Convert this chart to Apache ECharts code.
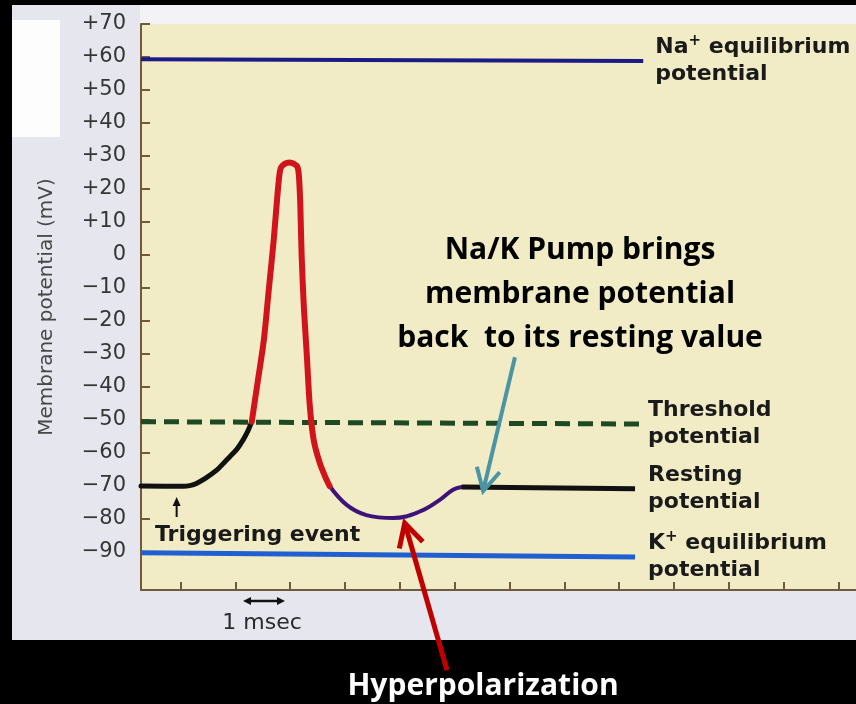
<!DOCTYPE html>
<html>
<head>
<meta charset="utf-8">
<script src="https://cdn.jsdelivr.net/npm/echarts@6.0.0/dist/echarts.min.js"></script>
<style>
    html, body { margin: 0; padding: 0; background: #000; }
    #chart { width: 856px; height: 704px; }
</style>
</head>
<body>
<div id="chart"></div>
<script>
// time in msec (one tick = 1 msec), potential in mV
const xTicks = [0, 1, 2, 3, 4, 5, 6, 7, 8, 9, 10, 11, 12];
const yTicks = [70, 60, 50, 40, 30, 20, 10, 0, -10, -20, -30, -40, -50, -60, -70, -80, -90];
const xMin = -0.72, xMax = 12.32;
const yMin = -101.5, yMax = 70;

// resting -> threshold
const tRise = [-0.72, 0.05, 0.19, 0.29, 0.46, 0.66, 0.79, 0.90, 1.03, 1.14, 1.23, 1.30];
const vRise = [-70, -70.1, -69.8, -69.2, -67.6, -65.2, -63, -61.1, -58.8, -56.1, -53.3, -50.5];
// spike
const tSpike = [1.30, 1.41, 1.52, 1.61, 1.70, 1.776, 1.812, 1.836, 1.899, 1.985, 2.072, 2.135, 2.162, 2.186, 2.21, 2.25, 2.305, 2.36, 2.43, 2.54, 2.65, 2.72];
const vSpike = [-50.5, -38.2, -25.8, -10.6, 4.5, 19.7, 25.2, 26.6, 27.6, 28.0, 27.6, 26.6, 23.5, 14.8, -0.3, -15.7, -30.6, -46, -56.1, -63, -67.6, -70];
// hyperpolarization
const tDip = [2.72, 3.03, 3.39, 3.88, 4.37, 4.73, 4.97, 5.13];
const vDip = [-70, -75.7, -78.8, -79.7, -77.7, -74.2, -71.1, -70.3];
// back to rest
const tRest = [5.13, 8.29];
const vRest = [-70.3, -70.8];

// reference potentials
const tNa = [-0.72, 8.44];
const vNa = [59.3, 58.8];
const tThr = [-0.72, 8.38];
const vThr = [-50.5, -51.2];
const tK = [-0.72, 8.29];
const vK = [-90.2, -91.5];

const font = 'DejaVu Sans';
const axisColor = '#6e5a3c';

function zip(t, v) {
    return t.map((x, i) => [x, v[i]]);
}

function fmtY(v) {
    if (v > 0) return '+' + v;
    if (v < 0) return '\u2212' + (-v);
    return '0';
}

const labelBase = {
    show: true,
    fontFamily: font,
    fontSize: 22,
    fontWeight: 'bold',
    color: '#1a1a1a',
    lineHeight: 27,
    rich: {
        sup: { fontFamily: font, fontSize: 15, fontWeight: 'bold', color: '#1a1a1a', verticalAlign: 'top', lineHeight: 27 }
    }
};

function endLabel(text, distance) {
    return Object.assign({}, labelBase, { distance: distance, formatter: () => text });
}

let myChart = echarts.init(document.getElementById('chart'));

let option = {
    backgroundColor: '#000',
    animation: false,
    grid: {
        left: 141, right: 0, top: 24, bottom: 114,
        show: true, backgroundColor: '#f1ebc6', borderWidth: 0,
        containLabel: false, outerBoundsMode: 'none'
    },
    xAxis: {
        type: 'value', min: xMin, max: xMax,
        axisLine: { onZero: false, lineStyle: { color: axisColor, width: 2 } },
        axisTick: { show: true, inside: true, length: 8, customValues: xTicks, lineStyle: { color: axisColor, width: 2 } },
        axisLabel: { show: false },
        splitLine: { show: false }
    },
    yAxis: {
        type: 'value', min: yMin, max: yMax,
        name: 'Membrane potential (mV)',
        nameLocation: 'middle',
        nameGap: 84,
        nameTextStyle: { fontFamily: font, fontSize: 20, color: '#474747' },
        axisLine: { show: true, onZero: false, lineStyle: { color: axisColor, width: 2 } },
        axisTick: { show: true, inside: true, length: 9, customValues: yTicks, lineStyle: { color: axisColor, width: 2 } },
        axisLabel: { customValues: yTicks, formatter: fmtY, margin: 15, fontFamily: font, fontSize: 21, color: '#353535' },
        splitLine: { show: false }
    },
    series: [
        {
            type: 'line', data: zip(tNa, vNa), symbol: 'none', silent: true, z: 2,
            lineStyle: { color: '#1b1b86', width: 4 },
            endLabel: endLabel('Na{sup|+} equilibrium\npotential', 12)
        },
        {
            type: 'line', data: zip(tK, vK), symbol: 'none', silent: true, z: 2,
            lineStyle: { color: '#1f5fd2', width: 5 },
            endLabel: endLabel('K{sup|+} equilibrium\npotential', 13)
        },
        {
            type: 'line', data: zip(tThr, vThr), symbol: 'none', silent: true, z: 2,
            lineStyle: { color: '#1d4a22', width: 5, type: [15, 8] },
            endLabel: endLabel('Threshold\npotential', 8)
        },
        {
            type: 'line', data: zip(tRise, vRise), symbol: 'none', silent: true, z: 3, smooth: 0.3,
            lineStyle: { color: '#111', width: 5, cap: 'round', join: 'round' }
        },
        {
            type: 'line', data: zip(tSpike, vSpike), symbol: 'none', silent: true, z: 4, smooth: 0.3,
            lineStyle: { color: '#d0141a', width: 6, cap: 'round', join: 'round' }
        },
        {
            type: 'line', data: zip(tDip, vDip), symbol: 'none', silent: true, z: 3, smooth: 0.4,
            lineStyle: { color: '#3c1478', width: 4, cap: 'round', join: 'round' }
        },
        {
            type: 'line', data: zip(tRest, vRest), symbol: 'none', silent: true, z: 3,
            lineStyle: { color: '#111', width: 5 },
            endLabel: endLabel('Resting\npotential', 13)
        }
    ]
};

myChart.setOption(option);

// annotations, anchored in data space
let p = (u, v) => myChart.convertToPixel({ gridIndex: 0 }, [u, v]);

function head(tip, tail, len, ang) {
    let dx = tail[0] - tip[0], dy = tail[1] - tip[1];
    let d = Math.hypot(dx, dy);
    let ux = dx / d, uy = dy / d;
    let a = ang * Math.PI / 180;
    let c = Math.cos(a), s = Math.sin(a);
    return [
        [tip[0] + len * (ux * c - uy * s), tip[1] + len * (ux * s + uy * c)],
        tip,
        [tip[0] + len * (ux * c + uy * s), tip[1] + len * (-ux * s + uy * c)]
    ];
}

let tealTail = p(6.10, -31), tealTip = p(5.52, -71.5);
let redTail = p(4.86, -125.8), redTip = p(4.09, -81.2);
let trigTip = p(-0.07, -73.3), trigTail = p(-0.07, -79.4);

myChart.setOption({
    graphic: [
        { type: 'rect', z: -10, shape: { x: 12, y: 5, width: 844, height: 635 }, style: { fill: '#e6e6ef' } },
        { type: 'rect', z: -9, shape: { x: 140, y: 5, width: 716, height: 19 }, style: { fill: '#f3f3f7' } },
        { type: 'rect', z: -9, shape: { x: 12, y: 20, width: 48, height: 117 }, style: { fill: '#fdfdfd' } },

        // Na/K pump note
        { type: 'text', z: 100, x: 580, y: 294,
          style: { text: 'Na/K Pump brings\nmembrane potential\nback  to its resting value',
                   font: 'bold 30px "Open Sans"', fill: '#000', align: 'center', verticalAlign: 'middle', lineHeight: 44 } },
        { type: 'line', z: 100, shape: { x1: tealTail[0], y1: tealTail[1], x2: tealTip[0], y2: tealTip[1] },
          style: { stroke: '#4a94a4', lineWidth: 4 } },
        { type: 'polyline', z: 100, shape: { points: head(tealTip, tealTail, 25, 28) },
          style: { stroke: '#4a94a4', lineWidth: 4, fill: null } },

        // hyperpolarization arrow
        { type: 'line', z: 100, shape: { x1: redTail[0], y1: redTail[1], x2: redTip[0], y2: redTip[1] },
          style: { stroke: '#c00000', lineWidth: 5 } },
        { type: 'polyline', z: 100, shape: { points: head(redTip, redTail, 26, 28) },
          style: { stroke: '#c00000', lineWidth: 5, fill: null } },
        { type: 'text', z: 100, x: 483, y: 686,
          style: { text: 'Hyperpolarization', font: 'bold 30px "Open Sans"', fill: '#fff', align: 'center', verticalAlign: 'middle' } },

        // triggering event
        { type: 'line', z: 100, shape: { x1: trigTail[0], y1: trigTail[1], x2: trigTip[0], y2: trigTip[1] + 6 },
          style: { stroke: '#111', lineWidth: 2 } },
        { type: 'polygon', z: 100, shape: { points: [[trigTip[0], trigTip[1]], [trigTip[0] - 4, trigTip[1] + 9], [trigTip[0] + 4, trigTip[1] + 9]] },
          style: { fill: '#111' } },
        { type: 'text', z: 100, x: 155, y: 535,
          style: { text: 'Triggering event', font: 'bold 22px "DejaVu Sans"', fill: '#1a1a1a', align: 'left', verticalAlign: 'middle' } },

        // time scale
        { type: 'line', z: 100, shape: { x1: 249, y1: 601, x2: 279, y2: 601 }, style: { stroke: '#111', lineWidth: 2.5 } },
        { type: 'polygon', z: 100, shape: { points: [[243, 601], [251, 597], [251, 605]] }, style: { fill: '#111' } },
        { type: 'polygon', z: 100, shape: { points: [[285, 601], [277, 597], [277, 605]] }, style: { fill: '#111' } },
        { type: 'text', z: 100, x: 262, y: 623,
          style: { text: '1 msec', font: '22px "DejaVu Sans"', fill: '#2a2a2a', align: 'center', verticalAlign: 'middle' } }
    ]
});
</script>
</body>
</html>
